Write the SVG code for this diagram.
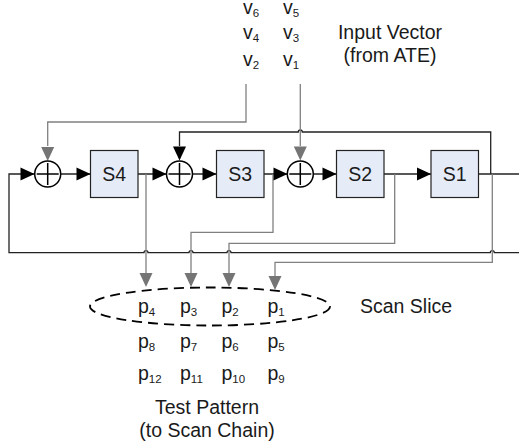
<svg xmlns="http://www.w3.org/2000/svg" width="519" height="448" viewBox="0 0 519 448">
<style>
text{font-family:"Liberation Sans",Arial,sans-serif;font-size:19.500px;fill:#1a1a1a}
.sub{font-size:11.500px}
.c{text-anchor:middle}
.reg{fill:#e6ecf7;stroke:#222;stroke-width:1.2}
.xor{fill:#fff;stroke:#000;stroke-width:1.5}
.sym{fill:none;stroke:#000;stroke-width:1.5}
.k{fill:none;stroke:#222;stroke-width:1.3}
.g{fill:none;stroke:#808080;stroke-width:1.3}
.ah{fill:#000}
.ag{fill:#757575}
</style>
<defs>
<polygon id="ar" class="ah" points="0,0 -14,-6.5 -14,6.5"/>
<polygon id="agd" class="ag" points="0,0 -6.500,-14 6.500,-14"/>
<polygon id="akd" class="ah" points="0,0 -6.500,-14 6.500,-14"/>
</defs>
<g id="connectors">
<path class="k" d="M478 174H519"/>
<path class="k" d="M179.500 146V132H298.300A2 2 0 0 1 302.300 132H490.700V174"/>
<path class="k" d="M34 174H9V252.700H144A2 2 0 0 1 148 252.700H189A2 2 0 0 1 193 252.700H227A2 2 0 0 1 231 252.700H490.300A2 2 0 0 1 494.300 252.700H519"/>
<path class="k" d="M61 174H90M138 174H166M193 174H216M264 174H287M314 174H336M384 174H431"/>
<path class="g" d="M246 84V122H47.700V146"/>
<path class="g" d="M300.300 84V146"/>
<path class="g" d="M146 174V274"/>
<path class="g" d="M273 174V232.300H191V274"/>
<path class="g" d="M394.700 174V243.300H229V274"/>
<path class="g" d="M492.300 174V262.300H275V277"/>
<use href="#ar" x="34.500" y="174"/>
<use href="#ar" x="90.500" y="174"/>
<use href="#ar" x="166.500" y="174"/>
<use href="#ar" x="216.500" y="174"/>
<use href="#ar" x="287.500" y="174"/>
<use href="#ar" x="336.500" y="174"/>
<use href="#ar" x="431" y="174"/>
<use href="#agd" x="47.700" y="161"/>
<use href="#akd" x="179.500" y="160.500"/>
<use href="#agd" x="300.300" y="160.500"/>
<use href="#agd" x="146" y="287"/>
<use href="#agd" x="191" y="287"/>
<use href="#agd" x="229" y="287"/>
<use href="#agd" x="275" y="290"/>
</g>
<g id="xor1"><circle class="xor" cx="47.700" cy="174" r="13"/><path class="sym" d="M47.700 163V185M36.700 174H58.700"/></g>
<g id="xor2"><circle class="xor" cx="179.500" cy="174" r="13"/><path class="sym" d="M179.500 163V185M168.500 174H190.500"/></g>
<g id="xor3"><circle class="xor" cx="300.300" cy="174" r="13"/><path class="sym" d="M300.300 163V185M289.300 174H311.300"/></g>
<g id="S4"><rect class="reg" x="90.500" y="150.500" width="47.500" height="47"/><text class="c" x="114.200" y="180.500">S4</text></g>
<g id="S3"><rect class="reg" x="216.500" y="150.500" width="47.500" height="47"/><text class="c" x="240.200" y="180.500">S3</text></g>
<g id="S2"><rect class="reg" x="336.500" y="150.500" width="47.500" height="47"/><text class="c" x="360.200" y="180.500">S2</text></g>
<g id="S1"><rect class="reg" x="431" y="150.500" width="47.500" height="47"/><text class="c" x="454.700" y="180.500">S1</text></g>
<g id="scan-slice"><ellipse cx="210" cy="306.500" rx="120" ry="19" fill="none" stroke="#000" stroke-width="1.800" stroke-dasharray="10 6"/></g>
<g id="input-vector">
<text x="243" y="13.500">v<tspan class="sub" dy="3">6</tspan></text>
<text x="283" y="13.500">v<tspan class="sub" dy="3">5</tspan></text>
<text x="243" y="39">v<tspan class="sub" dy="3">4</tspan></text>
<text x="283" y="39">v<tspan class="sub" dy="3">3</tspan></text>
<text x="243" y="66">v<tspan class="sub" dy="3">2</tspan></text>
<text x="283" y="66">v<tspan class="sub" dy="3">1</tspan></text>
<text class="c" x="390" y="39">Input Vector</text>
<text class="c" x="390" y="62">(from ATE)</text>
</g>
<g id="test-pattern">
<text x="138" y="313">p<tspan class="sub" dy="3">4</tspan></text>
<text x="180" y="313">p<tspan class="sub" dy="3">3</tspan></text>
<text x="221.500" y="313">p<tspan class="sub" dy="3">2</tspan></text>
<text x="267.500" y="313">p<tspan class="sub" dy="3">1</tspan></text>
<text x="138" y="347.500">p<tspan class="sub" dy="3">8</tspan></text>
<text x="180" y="347.500">p<tspan class="sub" dy="3">7</tspan></text>
<text x="221.500" y="347.500">p<tspan class="sub" dy="3">6</tspan></text>
<text x="267.500" y="347.500">p<tspan class="sub" dy="3">5</tspan></text>
<text x="138" y="380">p<tspan class="sub" dy="3">12</tspan></text>
<text x="180" y="380">p<tspan class="sub" dy="3">11</tspan></text>
<text x="221.500" y="380">p<tspan class="sub" dy="3">10</tspan></text>
<text x="267.500" y="380">p<tspan class="sub" dy="3">9</tspan></text>
<text x="360" y="313">Scan Slice</text>
<text class="c" x="207" y="414">Test Pattern</text>
<text class="c" x="207" y="437">(to Scan Chain)</text>
</g>
</svg>
